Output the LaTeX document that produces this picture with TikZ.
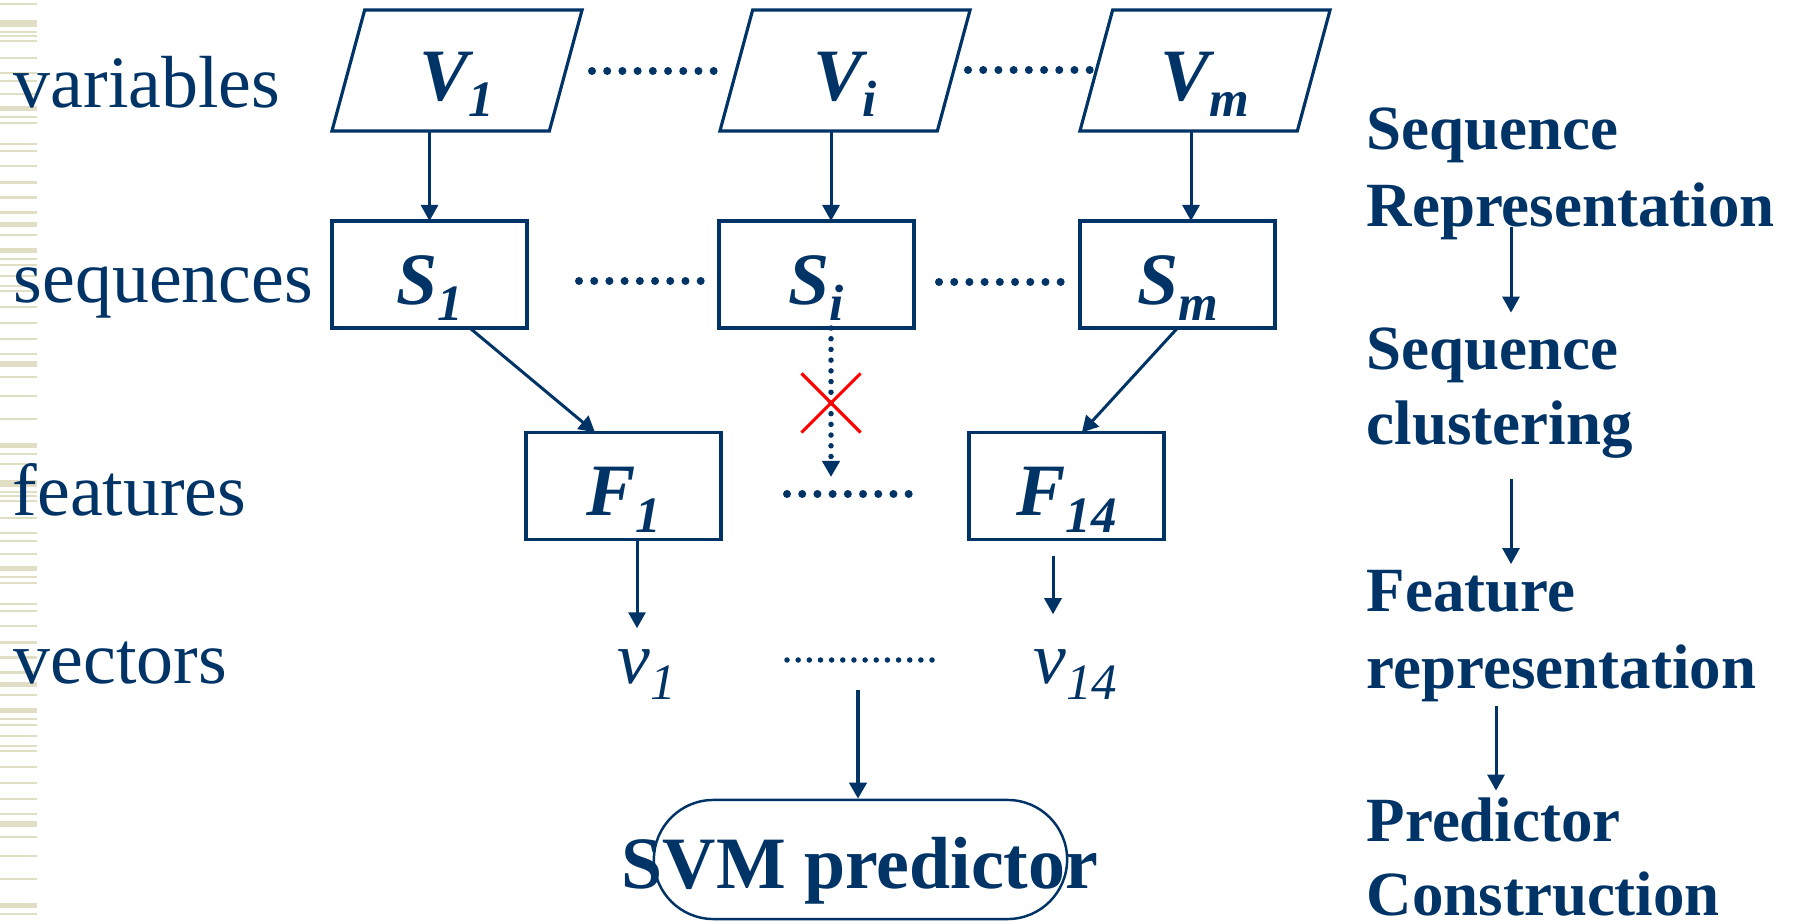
\documentclass[tikz,border=0pt]{standalone}
\usepackage{fontspec}
\setmainfont{Liberation Serif}
\usepackage{tikz}
\usetikzlibrary{shapes.geometric, shapes.misc, arrows.meta, calc}
\definecolor{navy1}{RGB}{0, 51, 102}
\definecolor{stripe1}{RGB}{224, 222, 196}
\newcommand{\lowsub}[1]{\raisebox{-0.23em}{\fontsize{14.5}{14.5}\selectfont #1}}

\begin{document}
\begin{tikzpicture}[x=0.01cm, y=-0.01cm,
  vnode/.style={trapezium, trapezium left angle=67.5, trapezium right angle=112.5, trapezium stretches body,
    draw=navy1, line width=0.9pt, minimum width=2.5cm, minimum height=1.21cm, text height=0.69cm, text depth=0.1cm,
    inner sep=0pt, outer sep=0pt, text=navy1, font=\fontsize{21}{25}\selectfont\bfseries\itshape},
  bnode/.style={draw=navy1, line width=0.9pt, minimum width=1.95cm, minimum height=1.07cm, text height=0.69cm, text depth=0.1cm,
    inner sep=0pt, outer sep=0pt, text=navy1, font=\fontsize{21}{25}\selectfont\bfseries\itshape},
  vtext/.style={anchor=base west, inner sep=0pt, text height=0.54cm, text=navy1, font=\fontsize{21}{25}\selectfont\itshape},
  lbl/.style={anchor=base west, inner sep=0pt, text=navy1, font=\fontsize{21}{25}\selectfont},
  rtext/.style={anchor=base west, inner sep=0pt, text=navy1, font=\fontsize{17.9}{21}\selectfont\bfseries},
  svmbox/.style={draw=navy1, line width=0.7pt, rounded corners=0.595cm, minimum width=4.13cm, minimum height=1.19cm, inner sep=0pt},
  svmtext/.style={anchor=base, inner sep=0pt, text=navy1, font=\fontsize{21}{25}\selectfont\bfseries},
  arr/.style={-{Triangle[length=0.16cm, width=0.17cm]}, draw=navy1, line width=0.85pt},
  dotarr/.style={-{Triangle[length=0.16cm, width=0.17cm]}, draw=navy1, line width=0.055cm, line cap=round, dash pattern=on 0pt off 0.107cm},
  dotrow/.style={draw=navy1, line width=0.08cm, line cap=round, dash pattern=on 0pt off 0.152cm},
  vecrow/.style={draw=navy1, line width=0.055cm, line cap=round, dash pattern=on 0pt off 0.1115cm},
  xmark/.style={cross out, draw=red, line width=0.9pt, minimum size=0.56cm, inner sep=0pt}
]
  \path[use as bounding box, fill=white] (0,0) rectangle (1794,922);
  \foreach \y/\h in {3/2, 20/7, 31/2, 35/2, 40/2, 57/2, 72/2, 80/2, 93/2, 106/5, 116/2, 122/2, 143/2, 150/2,
      165/2, 181/3, 196/3, 211/3, 222/5, 234/2, 248/5, 258/2, 264/2, 275/2, 285/2, 290/2, 306/2, 322/2,
      338/2, 353/2, 361/6, 376/2, 395/2, 418/2, 443/5, 453/2} {
    \fill[stripe1] (0,\y) rectangle (37,\y+\h);
    \fill[stripe1] (0,\y+460) rectangle (37,\y+\h+460);
  }

  \node[lbl] (lvar) at (13,108) {variables};
  \node[lbl] (lseq) at (13,303) {sequences};
  \node[lbl] (lfeat) at (12,516) {features};
  \node[lbl] (lvec) at (13,683) {vectors};

  \node[vnode] (V1) at (457,70.5) {V\lowsub{1}};
  \node[vnode] (Vi) at (845,70.5) {V\lowsub{i}};
  \node[vnode] (Vm) at (1205,70.5) {V\lowsub{m}};
  \node[bnode] (S1) at (429.5,274.5) {S\lowsub{1}};
  \node[bnode] (Si) at (816.5,274.5) {S\lowsub{i}};
  \node[bnode] (Sm) at (1177.5,274.5) {S\lowsub{m}};
  \node[bnode] (F1) at (623.5,486) {F\lowsub{1}};
  \node[bnode] (F14) at (1066.5,486) {F\lowsub{14}};
  \node[vtext] (v1) at (617,683) {v\lowsub{1}};
  \node[vtext] (v14) at (1033,683) {v\lowsub{14}};
  \node[svmbox] (svm) at (860.5,859.5) {};
  \node[svmtext] (svmlbl) at (860,888) {SVM predictor};

  \coordinate (colI) at (831,0);
  \coordinate (colM) at (1191,0);
  \coordinate (colA) at (637,0);
  \coordinate (colB) at (1053,0);
  \coordinate (colR) at (1511,0);
  \coordinate (colP) at (1496,0);
  \coordinate (fdtip) at (831,477);
  \coordinate (vecmid) at (858,660);

  \draw[dotrow] (592,71) -- (714.6,71);
  \draw[dotrow] (968,70) -- (1090.6,70);
  \draw[dotrow] (579,281) -- (701.6,281);
  \draw[dotrow] (939,282) -- (1061.6,282);
  \draw[dotrow] (787,494) -- (909.6,494);
  \draw[vecrow] (787,660) -- (933,660);

  \draw[arr] (V1.south -| S1.north) -- (S1.north);
  \draw[arr] (Vi.south -| colI) -- (Si.north -| colI);
  \draw[arr] (Vm.south -| colM) -- (Sm.north -| colM);
  \draw[arr] (S1.-53) -- (F1.118);
  \draw[arr] (Sm.south) -- (F14.74);
  \draw[dotarr] (Si.south -| colI) -- (fdtip);
  \node[xmark] (cut) at (831,403) {};
  \draw[arr] (F1.south -| colA) -- (v1.north -| colA);
  \draw[arr, shorten <=0.16cm, shorten >=0.14cm] (F14.south -| colB) -- (v14.north -| colB);
  \draw[arr, line width=1.1pt, shorten <=0.3cm] (vecmid) -- (vecmid |- svm.north);

  \node[rtext] (seqA) at (1366,150) {Sequence};
  \node[rtext] (repA) at (1366,227) {Representation};
  \node[rtext] (seqB) at (1366,370) {Sequence};
  \node[rtext] (clsB) at (1366,445) {clustering};
  \node[rtext] (featC) at (1366,612) {Feature};
  \node[rtext] (repC) at (1366,689) {representation};
  \node[rtext] (predD) at (1366,841) {Predictor};
  \node[rtext] (consD) at (1366,915) {Construction};
  \draw[arr, shorten >=0.15cm] (repA.base -| colR) -- (seqB.north -| colR);
  \draw[arr, shorten <=0.19cm, shorten >=0.06cm] (clsB.south -| colR) -- (featC.north -| colR);
  \draw[arr, shorten <=0.03cm, shorten >=0.06cm] (repC.south -| colP) -- (predD.north -| colP);
\end{tikzpicture}
\end{document}
